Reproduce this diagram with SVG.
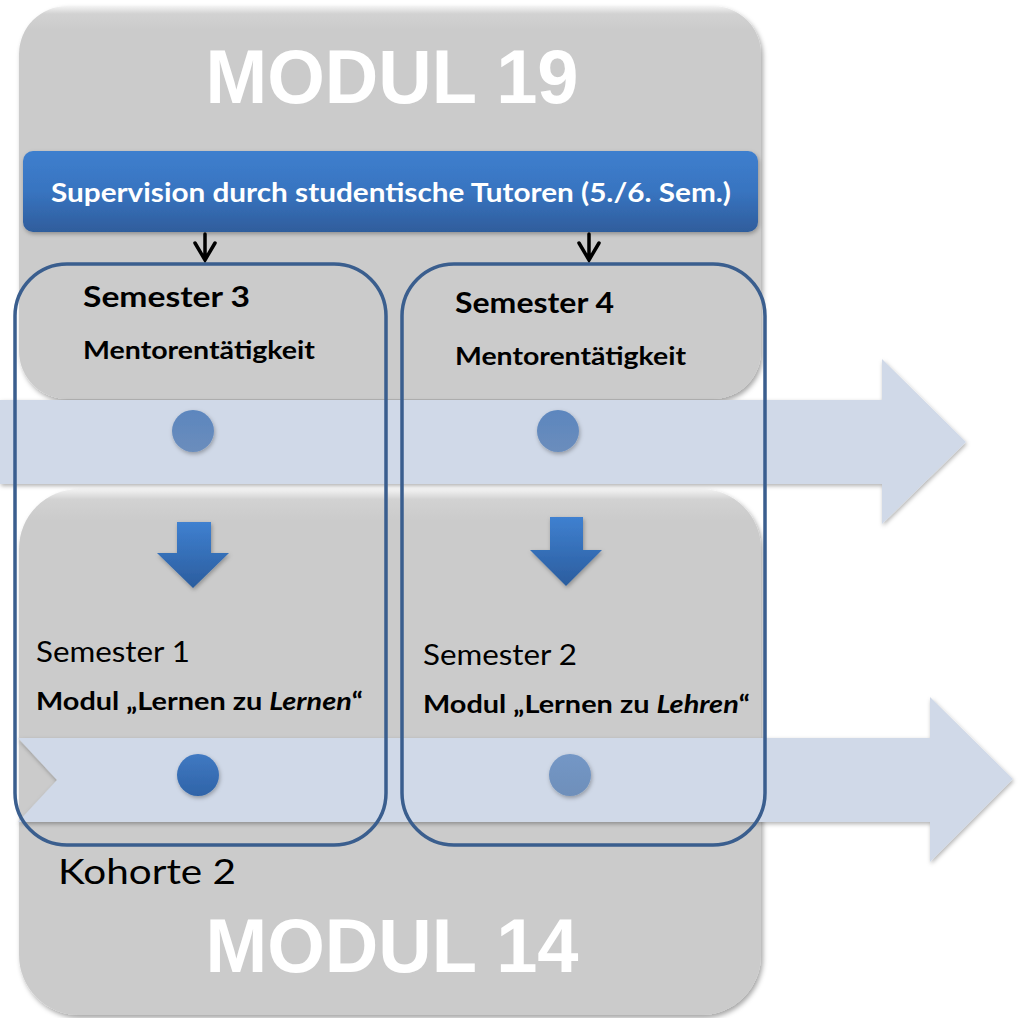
<svg xmlns="http://www.w3.org/2000/svg" width="1021" height="1018" viewBox="0 0 1021 1018">
  <defs>
    <linearGradient id="gBox" x1="0" y1="0" x2="0" y2="1">
      <stop offset="0" stop-color="#f4f4f4"/>
      <stop offset="0.02" stop-color="#d2d2d2"/>
      <stop offset="0.06" stop-color="#cbcbcb"/>
      <stop offset="1" stop-color="#cbcbcb"/>
    </linearGradient>
    <linearGradient id="gHeader" x1="0" y1="0" x2="0" y2="1">
      <stop offset="0" stop-color="#3e7fce"/>
      <stop offset="0.5" stop-color="#3874c0"/>
      <stop offset="1" stop-color="#2f5d9c"/>
    </linearGradient>
    <linearGradient id="gBlock" x1="0" y1="0" x2="0" y2="1">
      <stop offset="0" stop-color="#3f80d0"/>
      <stop offset="1" stop-color="#2b5d9e"/>
    </linearGradient>
    <linearGradient id="gDotA" x1="0" y1="0" x2="0" y2="1">
      <stop offset="0" stop-color="#5c86be"/>
      <stop offset="1" stop-color="#6b8dbc"/>
    </linearGradient>
    <linearGradient id="gDotB" x1="0" y1="0" x2="0" y2="1">
      <stop offset="0" stop-color="#4079c2"/>
      <stop offset="1" stop-color="#2f64a8"/>
    </linearGradient>
    <linearGradient id="gDotC" x1="0" y1="0" x2="0" y2="1">
      <stop offset="0" stop-color="#7497c6"/>
      <stop offset="1" stop-color="#6e8fba"/>
    </linearGradient>
    <filter id="shadow" x="-10%" y="-10%" width="120%" height="120%">
      <feDropShadow dx="2" dy="3" stdDeviation="2.5" flood-color="#000" flood-opacity="0.35"/>
    </filter>
    <filter id="soft" x="-20%" y="-20%" width="140%" height="140%">
      <feDropShadow dx="1" dy="2" stdDeviation="2" flood-color="#000" flood-opacity="0.3"/>
    </filter>
    <style>
      .box { fill: url(#gBox); filter: url(#shadow); }
      .band { fill: #d0d9e8; filter: url(#soft); }
      .outline { fill: none; stroke: #3a5e8e; stroke-width: 3.5; }
      .big { font-family: "Liberation Sans", Arial, sans-serif; font-weight: bold; font-size: 76px; fill: #ffffff; }
      .lbl { font-family: Lato, "Open Sans", sans-serif; fill: #000000; }
      .b { font-weight: bold; }
      .conn { fill: none; stroke: #000; stroke-width: 3.5; stroke-linecap: round; stroke-linejoin: miter; }
      .block { fill: url(#gBlock); filter: url(#soft); }
    </style>
  </defs>

  <g id="modul19">
    <rect class="box" x="19" y="6" width="742" height="393" rx="48" ry="48"/>
    <text class="big" x="392" y="103" text-anchor="middle" textLength="373" lengthAdjust="spacingAndGlyphs">MODUL 19</text>
  </g>

  <g id="supervision">
    <rect x="23" y="151" width="735" height="81" rx="10" ry="10" fill="url(#gHeader)" filter="url(#soft)"/>
    <text class="lbl b" x="391" y="202" text-anchor="middle" font-size="26" style="fill:#ffffff" textLength="680" lengthAdjust="spacingAndGlyphs">Supervision durch studentische Tutoren (5./6. Sem.)</text>
  </g>

  <g id="connectors">
    <path class="conn" d="M205 234 V259 M195 243 L205 260 L215 243"/>
    <path class="conn" d="M589 234 V259 M579 243 L589 260 L599 243"/>
  </g>

  <g id="modul14">
    <rect class="box" x="19" y="489" width="742" height="526" rx="60" ry="60"/>
  </g>

  <g id="timeline-upper">
    <path class="band" d="M0 400 H882 V359 L966 442 L882 524 V484 H0 Z"/>
    <circle cx="193" cy="431" r="21" fill="url(#gDotA)" filter="url(#soft)"/>
    <circle cx="558" cy="431" r="21" fill="url(#gDotA)" filter="url(#soft)"/>
  </g>

  <g id="timeline-lower">
    <path class="band" d="M18 738 H930 V697 L1013 779 L930 862 V822 H18 L57 780 Z"/>
    <circle cx="198" cy="775" r="21" fill="url(#gDotB)" filter="url(#soft)"/>
    <circle cx="570" cy="775" r="21" fill="url(#gDotC)" filter="url(#soft)"/>
  </g>

  <g id="block-arrows">
    <path class="block" d="M177 522 H211 V553 H229 L193 588 L157 553 H177 Z"/>
    <path class="block" d="M550 517 H583 V550 H602 L566 586 L530 550 H550 Z"/>
  </g>

  <g id="semester3">
    <text class="lbl b" x="83" y="307" font-size="29" textLength="167" lengthAdjust="spacingAndGlyphs">Semester  3</text>
    <text class="lbl b" x="83" y="359" font-size="24" textLength="232" lengthAdjust="spacingAndGlyphs">Mentorentätigkeit</text>
  </g>

  <g id="semester4">
    <text class="lbl b" x="455" y="313" font-size="29" textLength="159" lengthAdjust="spacingAndGlyphs">Semester 4</text>
    <text class="lbl b" x="455" y="365" font-size="24" textLength="231" lengthAdjust="spacingAndGlyphs">Mentorentätigkeit</text>
  </g>

  <g id="semester1">
    <text class="lbl" x="36" y="662" font-size="28" textLength="154" lengthAdjust="spacingAndGlyphs">Semester 1</text>
    <text class="lbl b" x="36" y="710" font-size="25" textLength="327" lengthAdjust="spacingAndGlyphs">Modul „Lernen zu <tspan font-style="italic">Lernen</tspan>“</text>
  </g>

  <g id="semester2">
    <text class="lbl" x="423" y="665" font-size="28" textLength="154" lengthAdjust="spacingAndGlyphs">Semester 2</text>
    <text class="lbl b" x="423" y="713" font-size="25" textLength="327" lengthAdjust="spacingAndGlyphs">Modul „Lernen zu <tspan font-style="italic">Lehren</tspan>“</text>
  </g>

  <g id="kohorte">
    <text class="lbl" x="58" y="884" font-size="34" textLength="178" lengthAdjust="spacingAndGlyphs">Kohorte 2</text>
  </g>

  <g id="modul14-label">
    <text class="big" x="392" y="972" text-anchor="middle" textLength="373" lengthAdjust="spacingAndGlyphs">MODUL 14</text>
  </g>

  <g id="cohort-frames">
    <rect class="outline" x="15" y="264" width="371" height="581" rx="52" ry="52"/>
    <rect class="outline" x="402" y="264" width="363" height="581" rx="52" ry="52"/>
  </g>
</svg>
